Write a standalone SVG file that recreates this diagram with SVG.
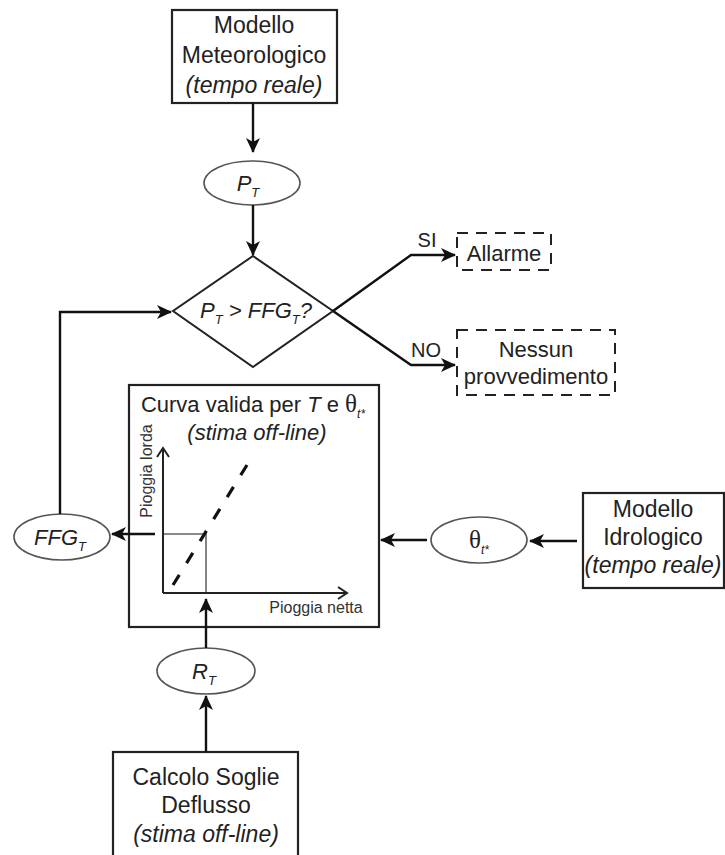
<svg xmlns="http://www.w3.org/2000/svg" width="725" height="855" viewBox="0 0 725 855">
<style>
text{font-family:"Liberation Sans",Arial,sans-serif;fill:#222;}
.box{fill:#fff;stroke:#222;stroke-width:2.2;}
.dbox{fill:#fff;stroke:#222;stroke-width:2;stroke-dasharray:11 8;}
.ell{fill:#fff;stroke:#555;stroke-width:1.6;}
.dia{fill:#fff;stroke:#222;stroke-width:2;}
.t{font-size:23px;text-anchor:middle;}
.it{font-style:italic;}
.lbl{font-size:20px;text-anchor:middle;}
.ax{font-size:16px;text-anchor:middle;fill:#333;}
.con{fill:none;stroke:#111;stroke-width:2.4;}
.axis{fill:none;stroke:#222;stroke-width:2;}
.guide{fill:none;stroke:#666;stroke-width:1.6;}
.th{font-family:"Liberation Serif","Times New Roman",serif;font-size:25px;}
</style>
<defs>
<marker id="ah" markerUnits="userSpaceOnUse" markerWidth="16" markerHeight="14" refX="14" refY="7" orient="auto">
<path d="M0,0 L15,7 L0,14 L4,7 Z" fill="#111"/>
</marker>
<marker id="ch" markerUnits="userSpaceOnUse" markerWidth="12" markerHeight="14" refX="10" refY="7" orient="auto">
<path d="M1,1 L10,7 L1,13" fill="none" stroke="#222" stroke-width="2"/>
</marker>
</defs>

<g id="modello-meteorologico">
<rect class="box" x="172" y="10" width="165" height="93"/>
<text class="t" x="254" y="33">Modello</text>
<text class="t" x="254" y="63">Meteorologico</text>
<text class="t it" x="254" y="93">(tempo reale)</text>
</g>

<g id="pt">
<ellipse class="ell" cx="252" cy="183" rx="48" ry="22"/>
<text x="248" y="191" font-size="22" font-style="italic" text-anchor="middle">P<tspan font-size="13" dy="6">T</tspan></text>
</g>

<g id="decisione">
<polygon class="dia" points="253,256 333,311 253,367 173,311"/>
<text x="256" y="318" font-size="22" font-style="italic" text-anchor="middle">P<tspan font-size="13" dy="6">T</tspan><tspan dy="-6"> &gt; FFG</tspan><tspan font-size="13" dy="6">T</tspan><tspan dy="-6">?</tspan></text>
</g>

<g id="allarme">
<rect class="dbox" x="457" y="233" width="94" height="37"/>
<text x="504" y="261" font-size="22" text-anchor="middle">Allarme</text>
</g>

<g id="nessun-provvedimento">
<rect class="dbox" x="457" y="330" width="158" height="65"/>
<text x="536" y="357" font-size="22" text-anchor="middle">Nessun</text>
<text x="536" y="384" font-size="22" text-anchor="middle">provvedimento</text>
</g>

<g id="curva">
<rect class="box" x="129" y="385" width="250" height="242"/>
<text x="253" y="412" font-size="22" text-anchor="middle">Curva valida per <tspan font-style="italic">T</tspan> e <tspan class="th">θ</tspan><tspan font-size="12" font-style="italic" dy="6">t*</tspan></text>
<text x="257" y="440" font-size="22" font-style="italic" text-anchor="middle">(stima off-line)</text>
<polyline class="guide" points="163,534 206,534 206,593"/>
<line class="axis" x1="163" y1="593" x2="163" y2="448" marker-end="url(#ch)"/>
<line class="axis" x1="163" y1="593" x2="347" y2="593" marker-end="url(#ch)"/>
<line x1="173" y1="585" x2="247" y2="465" stroke="#111" stroke-width="3.2" stroke-dasharray="12 13.8"/>
<text class="ax" x="316" y="613">Pioggia netta</text>
<text class="ax" transform="translate(152,471) rotate(-90)">Pioggia lorda</text>
</g>

<g id="ffg">
<ellipse class="ell" cx="62" cy="537" rx="48" ry="23"/>
<text x="60" y="545" font-size="22" font-style="italic" text-anchor="middle">FFG<tspan font-size="13" dy="6">T</tspan></text>
</g>

<g id="theta">
<ellipse class="ell" cx="479" cy="540" rx="48" ry="23"/>
<text x="479" y="548" font-size="22" text-anchor="middle"><tspan class="th">θ</tspan><tspan font-size="12" font-style="italic" dy="6">t*</tspan></text>
</g>

<g id="modello-idrologico">
<rect class="box" x="583" y="493" width="141" height="95"/>
<text class="t" x="653" y="517">Modello</text>
<text class="t" x="653" y="545">Idrologico</text>
<text class="t it" x="653" y="573">(tempo reale)</text>
</g>

<g id="rt">
<ellipse class="ell" cx="206" cy="671" rx="49" ry="23"/>
<text x="204" y="679" font-size="22" font-style="italic" text-anchor="middle">R<tspan font-size="13" dy="6">T</tspan></text>
</g>

<g id="calcolo-soglie">
<rect class="box" x="113" y="752" width="185" height="110"/>
<text class="t" x="206" y="785">Calcolo Soglie</text>
<text class="t" x="206" y="813">Deflusso</text>
<text class="t it" x="206" y="842">(stima off-line)</text>
</g>

<g id="connectors">
<line class="con" x1="253" y1="103" x2="253" y2="152" marker-end="url(#ah)"/>
<line class="con" x1="253" y1="205" x2="253" y2="255" marker-end="url(#ah)"/>
<polyline class="con" points="333,311 411,255 455,255" marker-end="url(#ah)"/>
<polyline class="con" points="333,311 411,365 455,365" marker-end="url(#ah)"/>
<polyline class="con" points="60,514 60,312 171,312" marker-end="url(#ah)"/>
<line class="con" x1="155" y1="534" x2="112" y2="534" marker-end="url(#ah)"/>
<line class="con" x1="577" y1="541" x2="530" y2="541" marker-end="url(#ah)"/>
<line class="con" x1="427" y1="540" x2="381" y2="540" marker-end="url(#ah)"/>
<line class="con" x1="206" y1="648" x2="206" y2="599" marker-end="url(#ah)"/>
<line class="con" x1="206" y1="752" x2="206" y2="696" marker-end="url(#ah)"/>
<text class="lbl" x="427" y="247">SI</text>
<text class="lbl" x="426" y="357">NO</text>
</g>
</svg>
